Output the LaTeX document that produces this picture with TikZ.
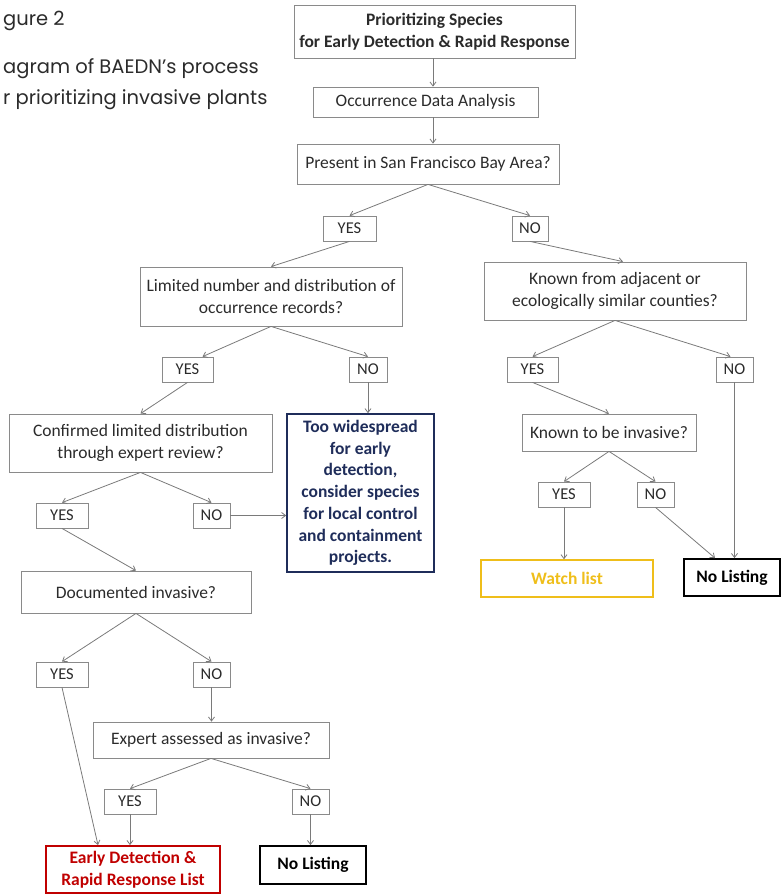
\documentclass[tikz,border=0pt]{standalone}
\usepackage{fontspec}
\setmainfont{Carlito}
\newfontfamily\capfont{Poppins}
\usepackage{tikz}
\usetikzlibrary{arrows.meta}
\definecolor{figGray}{HTML}{8A8A8A}
\definecolor{figLine}{HTML}{7A7A7A}
\definecolor{figNavy}{HTML}{1F2D5A}
\definecolor{figRed}{HTML}{C00000}
\definecolor{figGold}{HTML}{EFBE1A}
\definecolor{figText}{HTML}{2B2B2B}

\begin{document}
\begin{tikzpicture}[
  x=1pt, y=-1pt,
  >={Straight Barb[length=4pt,width=6pt]},
  every node/.style={font=\fontsize{17.5}{21.7}\selectfont, text=figText},
  qbox/.style={rectangle, draw=figGray, line width=0.8pt, inner sep=0pt,
    align=center, minimum width=#1},
  ansbox/.style={rectangle, draw=figGray, line width=0.8pt, inner sep=0pt,
    minimum width=#1, minimum height=25pt, font=\fontsize{16.5}{18}\selectfont},
  endbox/.style={rectangle, draw=#1, line width=1.8pt, inner sep=0pt,
    align=center, text=#1, font=\fontsize{17.5}{21.7}\selectfont\bfseries},
  link/.style={->, figLine, line width=0.8pt},
  captext/.style={font=\capfont\fontsize{19.5}{22}\selectfont, text=figText,
    anchor=base west, inner sep=0pt},
]
\useasboundingbox (0,0) rectangle (783,895);

% ======= Caption =======
\node[captext] (cap1) at (3,25) {gure 2};
\node[captext] (cap2) at (3,73) {agram of BAEDN’s process};
\node[captext] (cap3) at (3,104) {r prioritizing invasive plants};

% ======= Top of the chart =======
\node[qbox=281pt, minimum height=53pt, font=\fontsize{17.5}{21.7}\selectfont\bfseries]
  (top) at (434.5,31.5) {Prioritizing Species\\for Early Detection \& Rapid Response};
\node[qbox=225pt, minimum height=30pt] (occ) at (425.5,102) {Occurrence Data Analysis};
\node[qbox=262pt, minimum height=40pt] (present) at (428,164)
  {Present in San Francisco Bay Area?};

\node[ansbox=53pt] (yes1) at (349.5,228.5) {YES};
\node[ansbox=36pt] (no1) at (530,228.5) {NO};

% ======= Left branch =======
\node[qbox=262pt, minimum height=59pt] (limited) at (271,296.5)
  {Limited number and distribution of\\occurrence records?};
\node[ansbox=51pt] (yes2) at (187.5,369.5) {YES};
\node[ansbox=38pt] (no2) at (368,369.5) {NO};

\node[qbox=263pt, minimum height=58pt] (confirmed) at (140.5,443)
  {Confirmed limited distribution\\through expert review?};
\node[endbox=figNavy, minimum width=147pt, minimum height=158pt, line width=1.6pt]
  (wide) at (360.5,493)
  {Too widespread\\for early\\detection,\\consider species\\for local control\\and containment\\projects.};
\node[ansbox=52pt] (yes4) at (62,515.5) {YES};
\node[ansbox=37pt] (no4) at (211.5,515.5) {NO};

\node[qbox=230pt, minimum height=42pt] (documented) at (136,592) {Documented invasive?};
\node[ansbox=52pt] (yes6) at (62,674.5) {YES};
\node[ansbox=37pt] (no6) at (211.5,674.5) {NO};

\node[qbox=236pt, minimum height=36pt] (expert) at (211,740) {Expert assessed as invasive?};
\node[ansbox=52pt] (yes7) at (130,801.5) {YES};
\node[ansbox=37pt] (no7) at (310.5,801.5) {NO};

\node[endbox=figRed, minimum width=174pt, minimum height=47pt] (early) at (133,869.5)
  {Early Detection \&\\Rapid Response List};
\node[endbox=black, minimum width=106pt, minimum height=38pt] (nolist2) at (313,865)
  {No Listing};

% ======= Right branch =======
\node[qbox=262pt, minimum height=58pt] (known) at (615,291)
  {Known from adjacent or\\ecologically similar counties?};
\node[ansbox=51pt] (yes3) at (532.5,369.5) {YES};
\node[ansbox=37pt] (no3) at (734.5,369.5) {NO};

\node[qbox=174pt, minimum height=37pt] (kinv) at (609,432.5) {Known to be invasive?};
\node[ansbox=52pt] (yes5) at (564,494.5) {YES};
\node[ansbox=37pt] (no5) at (655.5,494.5) {NO};

\node[endbox=figGold, minimum width=172pt, minimum height=37pt, line width=1.4pt]
  (watch) at (567,578.5) {Watch list};
\node[endbox=black, minimum width=96pt, minimum height=37pt] (nolist1) at (732,577.5)
  {No Listing};

% ======= Connectors =======
\draw[link] (top.south -| 433,0) -- (occ.north -| 433,0);
\draw[link] (occ.south -| 433,0) -- (present.north -| 433,0);
\draw[link] (present.south) -- (yes1.north);
\draw[link] (present.south) -- (no1.north);
\draw[link] (yes1.south) -- (limited.north);
\draw[link] (no1.south) -- ([xshift=8pt]known.north);

\draw[link] (limited.south) -- ([xshift=15pt]yes2.north);
\draw[link] (limited.south) -- (no2.north);
\draw[link] (yes2.south) -- (confirmed.north);
\draw[link] (no2.south) -- (no2.south |- wide.north);
\draw[link] (confirmed.south) -- (yes4.north);
\draw[link] (confirmed.south) -- (no4.north);
\draw[link] (no4.east) -- (no4.east -| wide.west);
\draw[link] (yes4.south) -- (documented.north);
\draw[link] (documented.south) -- (yes6.north);
\draw[link] (documented.south) -- (no6.north);
\draw[link] (no6.south) -- (no6.south |- expert.north);
\draw[link] (yes6.south) -- ([xshift=-35pt]early.north);
\draw[link] (expert.south) -- (yes7.north);
\draw[link] (expert.south) -- (no7.north);
\draw[link] (yes7.south) -- (yes7.south |- early.north);
\draw[link] (no7.south) -- (no7.south |- nolist2.north);

\draw[link] (known.south) -- (yes3.north);
\draw[link] (known.south) -- ([xshift=-4pt]no3.north);
\draw[link] (yes3.south) -- (kinv.north);
\draw[link] (no3.south) -- (no3.south |- nolist1.north);
\draw[link] (kinv.south) -- (yes5.north);
\draw[link] (kinv.south) -- (no5.north);
\draw[link] (yes5.south) -- (yes5.south |- watch.north);
\draw[link] (no5.south) -- ([xshift=-17pt]nolist1.north);

\end{tikzpicture}
\end{document}
